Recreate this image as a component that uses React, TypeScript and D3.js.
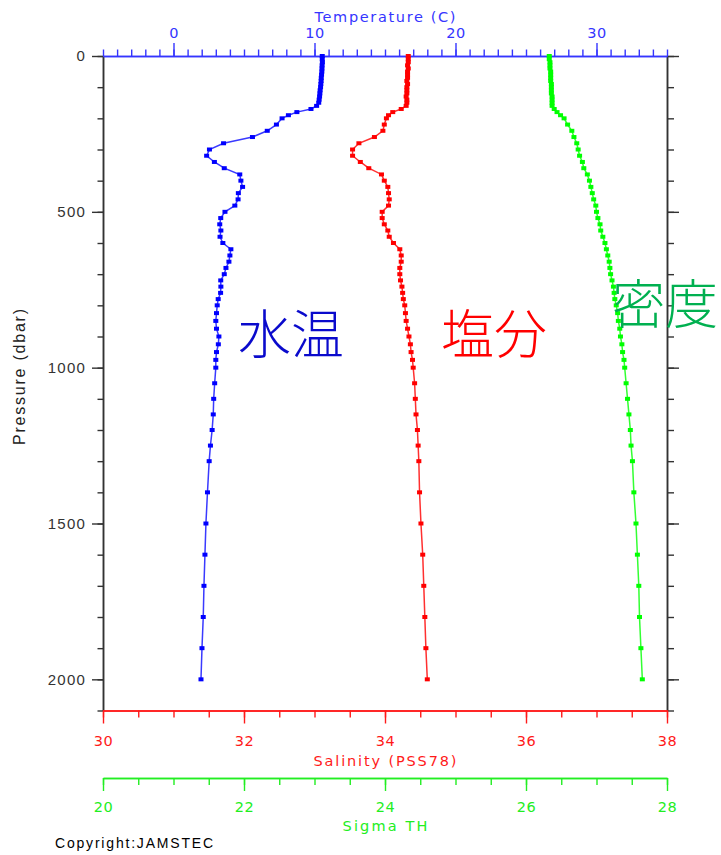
import React, { useEffect, useRef } from "react";
import * as d3 from "d3";

// pressure levels (dbar) of the profile
const pressure = [
  0, 10, 20, 30, 40, 50, 60, 70, 80, 90,
  100, 110, 120, 130, 140, 150, 160, 170, 180, 190,
  200, 220, 240, 260, 280, 300, 320, 340, 360, 380,
  400, 420, 440, 460, 480, 500, 520, 540, 560, 580,
  600, 620, 640, 660, 680, 700, 720, 740, 760, 780,
  800, 825, 850, 875, 900, 925, 950, 975, 1000, 1050,
  1100, 1150, 1200, 1250, 1300, 1400, 1500, 1600, 1700, 1800,
  1900, 2000,
];

// temperature (C)
const temperature = [
  10.55, 10.55, 10.56, 10.54, 10.53, 10.52, 10.5, 10.48, 10.47, 10.45,
  10.43, 10.4, 10.38, 10.36, 10.33, 10.3, 10.15, 9.75, 8.75, 8.15,
  7.7, 7.3, 6.65, 5.6, 3.55, 2.55, 2.35, 2.9, 3.6, 4.7,
  4.78, 4.9, 4.6, 4.58, 4.35, 3.65, 3.35, 3.28, 3.36, 3.3,
  3.5, 4.07, 4.0, 3.93, 3.72, 3.6, 3.35, 3.36, 3.34, 3.17,
  3.1, 3.05, 3.0, 3.05, 3.22, 3.18, 3.05, 3.0, 3.0, 2.92,
  2.85, 2.82, 2.74, 2.62, 2.53, 2.41, 2.3, 2.23, 2.16, 2.11,
  2.02, 1.95,
];

// salinity (PSS78)
const salinity = [
  34.33, 34.33, 34.33, 34.32, 34.33, 34.32, 34.32, 34.32, 34.31, 34.32,
  34.31, 34.31, 34.31, 34.3, 34.31, 34.31, 34.3, 34.23, 34.11, 34.05,
  34.02, 33.99, 33.97, 33.85, 33.63, 33.54, 33.54, 33.65, 33.77, 33.95,
  33.99, 34.04, 34.05, 34.06, 34.05, 33.96, 33.96, 33.99, 34.04, 34.06,
  34.12, 34.21, 34.23, 34.23, 34.21, 34.21, 34.22, 34.24, 34.25, 34.26,
  34.28, 34.29, 34.3, 34.32, 34.34, 34.36, 34.37, 34.39, 34.4, 34.42,
  34.43, 34.44, 34.46, 34.47, 34.48, 34.49, 34.51, 34.535, 34.55, 34.565,
  34.58, 34.6,
];

// potential density sigma-theta
const sigmaTheta = [
  26.33, 26.33, 26.34, 26.34, 26.34, 26.35, 26.35, 26.35, 26.35, 26.36,
  26.36, 26.36, 26.36, 26.37, 26.37, 26.37, 26.37, 26.4, 26.44, 26.49,
  26.54, 26.59, 26.65, 26.68, 26.72, 26.74, 26.76, 26.8, 26.82, 26.87,
  26.9, 26.92, 26.94, 26.96, 26.99, 27.0, 27.02, 27.05, 27.06, 27.09,
  27.12, 27.14, 27.16, 27.18, 27.19, 27.2, 27.22, 27.24, 27.25, 27.26,
  27.28, 27.3, 27.31, 27.33, 27.34, 27.36, 27.37, 27.39, 27.4, 27.42,
  27.44, 27.46, 27.48, 27.49, 27.51, 27.53, 27.56, 27.58, 27.6, 27.61,
  27.63, 27.65,
];

const tempTicks = [0, 10, 20, 30];
const pressureTicks = [0, 500, 1000, 1500, 2000];
const salinityTicks = [30, 32, 34, 36, 38];
const sigmaTicks = [20, 22, 24, 26, 28];

const axisFont = "'DejaVu Sans', sans-serif";

function styleAxis(g: any, color: string, fontSize = 14.5) {
  g.attr("font-family", axisFont).attr("font-size", fontSize);
  g.select(".domain").attr("stroke", color).attr("stroke-width", 1.5);
  g.selectAll(".tick line").attr("stroke", color).attr("stroke-width", 1.4);
  g.selectAll(".tick text").attr("fill", color).attr("letter-spacing", 0.5);
}

export default function App() {
  const ref = useRef<SVGSVGElement>(null);

  useEffect(() => {
    const left = 103;
    const right = 667;
    const top = 56;
    const bottom = 710.5;

    const y = d3.scaleLinear().domain([0, 2100]).range([top, bottom]);
    const xT = d3.scaleLinear().domain([-5, 35]).range([left, right]);
    const xS = d3.scaleLinear().domain([30, 38]).range([left, right]);
    const xD = d3.scaleLinear().domain([20, 28]).range([left, right]);

    const svg = d3.select(ref.current);
    svg.selectAll("*").remove();

    // left pressure axis
    const gl = svg.append("g").attr("transform", `translate(${left},0)`);
    gl.call(d3.axisLeft(y).tickValues(d3.range(0, 2101, 100)).tickSize(5.5).tickSizeOuter(0).tickFormat(() => ""));
    styleAxis(gl, "#333");
    const gl2 = svg.append("g").attr("transform", `translate(${left},0)`);
    gl2.call(d3.axisLeft(y).tickValues(pressureTicks).tickSize(11).tickSizeOuter(0).tickPadding(6).tickFormat(d3.format("d")));
    styleAxis(gl2, "#333");
    gl2.attr("font-family", "'Liberation Sans', Arial, sans-serif").attr("font-size", 15);
    gl2.selectAll(".tick text").attr("letter-spacing", 1.2);

    svg.append("text")
      .attr("transform", `translate(25,377) rotate(-90)`)
      .attr("text-anchor", "middle")
      .attr("font-family", "'Liberation Sans', Arial, sans-serif")
      .attr("font-size", 16)
      .attr("textLength", 136)
      .attr("lengthAdjust", "spacing")
      .attr("fill", "#222")
      .text("Pressure (dbar)");

    // right axis
    const gr = svg.append("g").attr("transform", `translate(${right},0)`);
    gr.call(d3.axisRight(y).tickValues(d3.range(0, 2101, 100)).tickSize(7).tickSizeOuter(0).tickFormat(() => ""));
    styleAxis(gr, "#333");
    const gr2 = svg.append("g").attr("transform", `translate(${right},0)`);
    gr2.call(d3.axisRight(y).tickValues(pressureTicks).tickSize(12).tickSizeOuter(0).tickFormat(() => ""));
    styleAxis(gr2, "#333");

    // top temperature axis
    const blue = "#3535ff";
    const gt = svg.append("g").attr("transform", `translate(0,${top})`);
    gt.call(d3.axisTop(xT).tickValues(d3.range(-5, 35.5, 1)).tickSize(6.5).tickSizeOuter(0).tickFormat(() => ""));
    styleAxis(gt, blue);
    const gt2 = svg.append("g").attr("transform", `translate(0,${top})`);
    gt2.call(d3.axisTop(xT).tickValues(tempTicks).tickSize(13).tickSizeOuter(0).tickPadding(5.5).tickFormat(d3.format("d")));
    styleAxis(gt2, blue);
    svg.append("text")
      .attr("x", (left + right) / 2)
      .attr("y", 22)
      .attr("text-anchor", "middle")
      .attr("font-family", axisFont)
      .attr("font-size", 14.5)
      .attr("textLength", 141)
      .attr("lengthAdjust", "spacing")
      .attr("fill", blue)
      .text("Temperature (C)");

    // bottom salinity axis
    const red = "#ff1a1a";
    const gs = svg.append("g").attr("transform", `translate(0,${bottom})`);
    gs.call(d3.axisBottom(xS).tickValues(d3.range(30, 38.01, 0.5)).tickSize(7).tickSizeOuter(0).tickFormat(() => ""));
    styleAxis(gs, red);
    const gs2 = svg.append("g").attr("transform", `translate(0,${bottom})`);
    gs2.call(d3.axisBottom(xS).tickValues(salinityTicks).tickSize(13).tickSizeOuter(0).tickPadding(12.5).tickFormat(d3.format("d")));
    styleAxis(gs2, red);
    svg.append("text")
      .attr("x", (left + right) / 2)
      .attr("y", 766)
      .attr("text-anchor", "middle")
      .attr("font-family", axisFont)
      .attr("font-size", 14.5)
      .attr("textLength", 143)
      .attr("lengthAdjust", "spacing")
      .attr("fill", red)
      .text("Salinity (PSS78)");

    // sigma-theta axis
    const green = "#22ee22";
    const sigY = 778;
    const gd = svg.append("g").attr("transform", `translate(0,${sigY})`);
    gd.call(d3.axisBottom(xD).tickValues(d3.range(20, 28.01, 0.5)).tickSize(7).tickSizeOuter(0).tickFormat(() => ""));
    styleAxis(gd, green);
    const gd2 = svg.append("g").attr("transform", `translate(0,${sigY})`);
    gd2.call(d3.axisBottom(xD).tickValues(sigmaTicks).tickSize(13).tickSizeOuter(0).tickPadding(10.5).tickFormat(d3.format("d")));
    styleAxis(gd2, green);
    svg.append("text")
      .attr("x", (left + right) / 2)
      .attr("y", 831)
      .attr("text-anchor", "middle")
      .attr("font-family", axisFont)
      .attr("font-size", 14.5)
      .attr("textLength", 85)
      .attr("lengthAdjust", "spacing")
      .attr("fill", green)
      .text("Sigma TH");

    // profiles
    const profiles = [
      { values: temperature, x: xT, line: "#3a3aff", mark: "#0000ff" },
      { values: salinity, x: xS, line: "#ff3030", mark: "#ff0000" },
      { values: sigmaTheta, x: xD, line: "#33ff33", mark: "#00ff00" },
    ];
    profiles.forEach((p) => {
      const line = d3.line<number>()
        .x((d) => p.x(d))
        .y((_, i) => y(pressure[i]));
      svg.append("path")
        .attr("d", line(p.values))
        .attr("fill", "none")
        .attr("stroke", p.line)
        .attr("stroke-width", 1.5);
      svg.append("g")
        .selectAll("rect")
        .data(p.values)
        .enter()
        .append("rect")
        .attr("x", (d) => p.x(d) - 2.5)
        .attr("y", (_, i) => y(pressure[i]) - 2)
        .attr("width", 5)
        .attr("height", 4)
        .attr("fill", p.mark);
    });

    // Japanese labels
    const jp = "'Noto Sans CJK JP', sans-serif";
    const labels = [
      { text: "水温", x: 238, y: 354, color: "#0a0acc" },
      { text: "塩分", x: 441, y: 354, color: "#ff0000" },
      { text: "密度", x: 612, y: 324, color: "#00b050" },
    ];
    svg.selectAll("text.jp")
      .data(labels)
      .enter()
      .append("text")
      .attr("class", "jp")
      .attr("x", (d) => d.x)
      .attr("y", (d) => d.y)
      .attr("font-family", jp)
      .attr("font-size", 53)
      .attr("font-weight", 300)
      .attr("fill", (d) => d.color)
      .text((d) => d.text);

    svg.append("text")
      .attr("x", 55)
      .attr("y", 848)
      .attr("font-family", "'Liberation Sans', Arial, sans-serif")
      .attr("font-size", 14)
      .attr("textLength", 158)
      .attr("lengthAdjust", "spacing")
      .attr("fill", "#000")
      .text("Copyright:JAMSTEC");
  }, []);

  return (
    <div style={{ position: "absolute", left: 0, top: 0 }}>
      <svg ref={ref} width={721} height={855} style={{ display: "block", background: "#fff" }} />
    </div>
  );
}
